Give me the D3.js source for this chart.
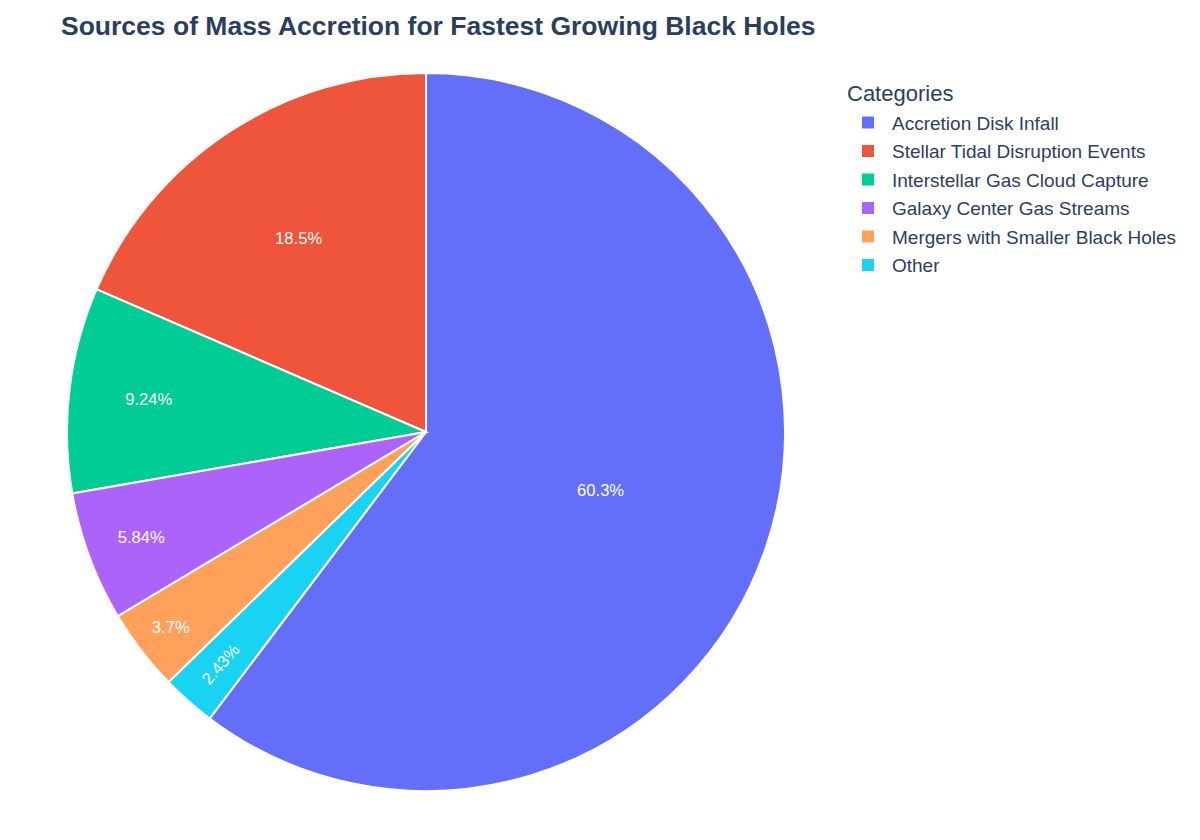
<!doctype html>
<html>
<head>
    <meta charset="utf-8">
    <style>
        body {
            margin: 0;
            background: #fff;
        }

        svg {
            display: block;
        }

        text {
            font-family: 'Liberation Sans', Arial, sans-serif;
        }

        text.title {
            font-size: 26.5px;
            font-weight: 700;
            fill: #2a3f5f;
        }

        text.legend-title {
            font-size: 22px;
            fill: #2a3f5f;
        }

        text.legend-label {
            font-size: 19px;
            fill: #2a3f5f;
        }

        text.slice-label {
            font-size: 16.6px;
            fill: #fff;
        }

        path.slice {
            stroke: #fff;
            stroke-width: 2;
        }
    </style>
    <script src="https://d3js.org/d3.v7.min.js"></script>
</head>
<body>
<svg width="1200" height="840"></svg>
<script>
    const categories = [
        'Accretion Disk Infall',
        'Stellar Tidal Disruption Events',
        'Interstellar Gas Cloud Capture',
        'Galaxy Center Gas Streams',
        'Mergers with Smaller Black Holes',
        'Other'
    ];
    const values = [60.3, 18.5, 9.24, 5.84, 3.7, 2.43];
    const colors = ['#636efa', '#EF553B', '#00cc96', '#ab63fa', '#FFA15A', '#19d3f3'];

    const W = 1200, H = 840;
    const margin = {top: 73, right: 415, bottom: 49, left: 67};
    const plotW = W - margin.left - margin.right;
    const plotH = H - margin.top - margin.bottom;
    const r = Math.min(plotW, plotH) / 2;
    const cx = margin.left + plotW / 2;
    const cy = margin.top + plotH / 2;
    const TEXTPAD = 3;

    const svg = d3.select('svg');

    svg.append('text')
        .attr('class', 'title')
        .attr('x', 61)
        .attr('y', 35)
        .text('Sources of Mass Accretion for Fastest Growing Black Holes');

    const data = categories.map((c, i) => ({name: c, value: values[i], color: colors[i]}));
    const total = d3.sum(values);

    // counterclockwise, first slice ends at 12 o'clock (plotly default)
    const a0 = 2 * Math.PI * values[0] / total;
    const pie = d3.pie()
        .sort(null)
        .value(d => d.value)
        .startAngle(a0)
        .endAngle(a0 - 2 * Math.PI);

    const arc = d3.arc().innerRadius(0).outerRadius(r);
    const arcs = pie(data);

    const g = svg.append('g').attr('transform', `translate(${cx}, ${cy})`);

    g.selectAll('path.slice')
        .data(arcs)
        .enter()
        .append('path')
        .attr('class', 'slice')
        .attr('d', arc)
        .attr('fill', d => d.data.color);

    const fmt = d3.format('.3~r');

    // plotly-like placement of inside text
    const calcRotate = t => (180 / Math.PI * t + 720) % 180 - 90;
    const calcRCenter = (a, b) => Math.cos(b) - a * b;
    const calcMaxHalfSize = (a, half, rr) => {
        const q = a + 1 / (2 * Math.tan(half));
        return rr * Math.min(1 / (Math.sqrt(q * q + 0.5) + q), 1 / (Math.sqrt(a * a + 0.5) + a));
    };

    function insideTransform(bb, d) {
        const half = Math.abs(d.endAngle - d.startAngle) / 2;
        const mid = (d.startAngle + d.endAngle) / 2;
        const rIns = Math.min(1 / (1 + 1 / Math.sin(half)), 0.5);
        const diam = Math.sqrt(bb.width * bb.width + bb.height * bb.height);
        const hor = {scale: rIns * r * 2 / diam, rCenter: 1 - rIns, rotate: 0};
        if (hor.scale >= 1) return hor;
        const rr = Math.max(0, r - 2 * TEXTPAD);
        const aR = bb.width / bb.height;
        const sR = calcMaxHalfSize(aR, half, rr);
        const rad = {scale: sR * 2 / bb.height, rCenter: calcRCenter(aR, sR / rr), rotate: calcRotate(mid)};
        const aT = bb.height / bb.width;
        const sT = calcMaxHalfSize(aT, half, rr);
        const tan = {scale: sT * 2 / bb.width, rCenter: calcRCenter(aT, sT / rr), rotate: calcRotate(mid + Math.PI / 2)};
        return [hor, rad, tan].reduce((m, t) => t.scale > m.scale ? t : m);
    }

    g.selectAll('text.slice-label')
        .data(arcs)
        .enter()
        .append('text')
        .attr('class', 'slice-label')
        .text(d => fmt(d.data.value / total * 100) + '%')
        .each(function (d) {
            const el = d3.select(this);
            const bb = this.getBBox();
            const padded = {width: bb.width + 2 * TEXTPAD, height: bb.height + TEXTPAD};
            const t = insideTransform(padded, d);
            const mid = (d.startAngle + d.endAngle) / 2;
            const tx = Math.sin(mid) * r * t.rCenter;
            const ty = -Math.cos(mid) * r * t.rCenter;
            const s = Math.min(1, t.scale);
            const bx = bb.x + bb.width / 2, by = bb.y + bb.height / 2;
            el.attr('transform', `translate(${tx}, ${ty}) rotate(${t.rotate}) scale(${s}) translate(${-bx}, ${-by})`);
        });

    // legend
    const legend = svg.append('g').attr('transform', 'translate(847, 0)');

    legend.append('text')
        .attr('class', 'legend-title')
        .attr('x', 0)
        .attr('y', 101)
        .text('Categories');

    const items = legend.selectAll('g.item')
        .data(data)
        .enter()
        .append('g')
        .attr('class', 'item')
        .attr('transform', (d, i) => `translate(0, ${122.5 + i * 28.5})`);

    items.append('rect')
        .attr('x', 15)
        .attr('y', -6)
        .attr('width', 12)
        .attr('height', 12)
        .attr('fill', d => d.color);

    items.append('text')
        .attr('class', 'legend-label')
        .attr('x', 45)
        .attr('y', 7)
        .text(d => d.name);
</script>
</body>
</html>
